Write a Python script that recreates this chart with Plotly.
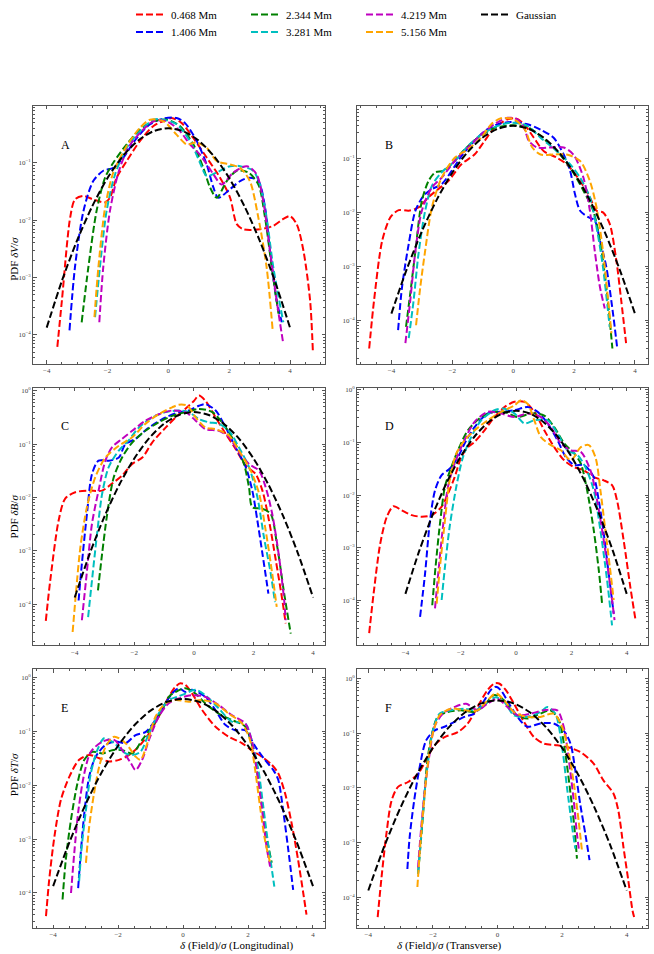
import plotly.graph_objects as go

# ---------------- data ----------------
SERIES = ["0.468 Mm", "1.406 Mm", "2.344 Mm", "3.281 Mm", "4.219 Mm", "5.156 Mm"]
COLORS = ["#ff0000", "#0000ff", "#008000", "#00bfbf", "#bf00bf", "#ffa500"]
PANELS = ["A", "B", "C", "D", "E", "F"]
Y_TITLES = {"A": "PDF <i>δV</i>/<i>σ</i>", "C": "PDF <i>δB</i>/<i>σ</i>", "E": "PDF <i>δT</i>/<i>σ</i>"}
X_TITLES = {"E": "<i>δ</i> (Field)/<i>σ</i> (Longitudinal)", "F": "<i>δ</i> (Field)/<i>σ</i> (Transverse)"}
X_TICKS = [-4, -2, 0, 2, 4]
X_TICK_TEXT = ["−4", "−2", "0", "2", "4"]
Y_TICKS = [1, 0.1, 0.01, 0.001, 0.0001]
Y_TICK_TEXT = ["10<sup>0</sup>", "10<sup>−1</sup>", "10<sup>−2</sup>", "10<sup>−3</sup>", "10<sup>−4</sup>"]

GAUSS_X = [-4.0, -3.5, -3.0, -2.5, -2.0, -1.5, -1.0, -0.5, 0.0, 0.5, 1.0, 1.5, 2.0, 2.5, 3.0, 3.5, 4.0]
GAUSS_PDF = [1.338e-4, 8.727e-4, 4.432e-3, 1.753e-2, 5.399e-2, 0.1295, 0.2420, 0.3521, 0.3989,
             0.3521, 0.2420, 0.1295, 5.399e-2, 1.753e-2, 4.432e-3, 8.727e-4, 1.338e-4]

# Panel A (dV, longitudinal): x and log10(PDF)
A_0468_X = [-3.65, -3.5, -3.23, -3.07, -2.80, -2.47, -2.08, -1.92, -1.70, -1.37, -0.93, -0.49, -0.05, 0.11, 0.44, 0.82, 1.26, 1.70, 2.03, 2.25, 2.47, 3.01, 3.45, 3.78, 4.0, 4.22, 4.44, 4.66, 4.75]
A_0468_LOGY = [-4.21, -3.40, -1.96, -1.64, -1.58, -1.64, -1.69, -1.61, -1.26, -0.97, -0.62, -0.36, -0.25, -0.22, -0.31, -0.57, -0.91, -1.26, -1.61, -2.07, -2.16, -2.16, -2.10, -1.98, -1.93, -2.07, -2.53, -3.40, -4.27]
A_1406_X = [-3.25, -3.07, -2.79, -2.47, -2.14, -1.81, -1.48, -1.04, -0.60, -0.16, 0.27, 0.55, 0.93, 1.26, 1.48, 1.64, 2.03, 2.36, 2.68, 2.96, 3.18, 3.34, 3.56, 3.73]
A_1406_LOGY = [-3.92, -2.82, -1.84, -1.32, -1.14, -1.09, -0.91, -0.57, -0.33, -0.23, -0.22, -0.31, -0.62, -1.03, -1.43, -1.61, -1.46, -1.32, -1.26, -1.32, -1.78, -2.53, -3.40, -3.78]
A_2344_X = [-2.85, -2.63, -2.36, -2.08, -1.81, -1.37, -0.93, -0.49, -0.05, 0.38, 0.82, 1.15, 1.37, 1.59, 1.92, 2.25, 2.63, 2.96, 3.18, 3.40, 3.62]
A_2344_LOGY = [-3.78, -2.82, -1.84, -1.26, -1.0, -0.68, -0.42, -0.28, -0.25, -0.36, -0.68, -1.09, -1.43, -1.61, -1.32, -1.14, -1.17, -1.38, -1.96, -2.82, -3.63]
A_3281_X = [-2.41, -2.25, -2.03, -1.75, -1.37, -0.93, -0.49, -0.16, 0.27, 0.71, 1.04, 1.26, 1.59, 2.03, 2.36, 2.79, 3.01, 3.23, 3.45, 3.78]
A_3281_LOGY = [-3.69, -2.82, -1.84, -1.20, -0.74, -0.45, -0.25, -0.25, -0.33, -0.62, -1.0, -1.23, -1.17, -1.06, -1.06, -1.14, -1.38, -1.96, -2.82, -3.78]
A_4219_X = [-2.27, -2.14, -1.92, -1.64, -1.32, -0.93, -0.49, -0.05, 0.38, 0.71, 1.04, 1.48, 1.75, 2.14, 2.58, 2.90, 3.12, 3.34, 3.56, 3.78]
A_4219_LOGY = [-3.78, -2.82, -1.84, -1.17, -0.74, -0.48, -0.28, -0.28, -0.45, -0.68, -0.86, -1.20, -1.38, -1.17, -1.06, -1.20, -1.67, -2.53, -3.40, -4.16]
A_5156_X = [-2.43, -2.30, -2.08, -1.81, -1.37, -0.93, -0.60, -0.16, 0.27, 0.60, 0.93, 1.26, 1.59, 2.03, 2.36, 2.68, 2.96, 3.23, 3.43]
A_5156_LOGY = [-3.69, -2.82, -1.78, -1.17, -0.71, -0.39, -0.25, -0.28, -0.51, -0.68, -0.65, -0.74, -0.97, -1.03, -1.09, -1.32, -1.96, -2.82, -3.92]

# Panel B (dV, transverse)
B_0468_X = [-4.73, -4.57, -4.30, -4.03, -3.76, -3.43, -3.11, -2.78, -2.46, -2.13, -1.70, -1.27, -0.94, -0.62, -0.18, 0.09, 0.36, 0.68, 1.01, 1.44, 1.76, 2.20, 2.52, 2.74, 2.95, 3.17, 3.39, 3.55, 3.71]
B_0468_LOGY = [-4.52, -3.63, -2.52, -2.09, -1.96, -1.97, -1.91, -1.72, -1.57, -1.42, -1.11, -0.93, -0.68, -0.44, -0.28, -0.26, -0.37, -0.62, -0.87, -0.99, -1.11, -1.42, -1.72, -1.97, -2.0, -2.21, -2.89, -3.63, -4.42]
B_1406_X = [-3.78, -3.65, -3.43, -3.21, -2.94, -2.67, -2.35, -2.02, -1.70, -1.37, -0.94, -0.51, -0.08, 0.47, 0.90, 1.33, 1.66, 1.87, 2.03, 2.20, 2.47, 2.68, 2.85, 3.06, 3.28, 3.42]
B_1406_LOGY = [-4.18, -3.38, -2.58, -1.97, -1.69, -1.57, -1.48, -1.23, -0.96, -0.74, -0.50, -0.37, -0.33, -0.37, -0.47, -0.62, -0.93, -1.23, -1.66, -1.97, -2.09, -2.15, -2.52, -3.01, -3.87, -4.52]
B_2344_X = [-3.52, -3.38, -3.21, -3.00, -2.78, -2.56, -2.29, -2.02, -1.58, -1.16, -0.62, -0.08, 0.47, 0.90, 1.44, 1.87, 2.31, 2.63, 2.85, 3.06, 3.26]
B_2344_LOGY = [-4.12, -3.50, -2.71, -1.79, -1.42, -1.26, -1.23, -1.11, -0.83, -0.62, -0.44, -0.39, -0.42, -0.59, -0.87, -1.17, -1.60, -1.97, -2.52, -3.38, -4.52]
B_3281_X = [-3.43, -3.27, -3.11, -2.89, -2.67, -2.35, -1.92, -1.48, -1.05, -0.51, -0.08, 0.47, 0.90, 1.44, 1.87, 2.20, 2.52, 2.74, 2.95, 3.17]
B_3281_LOGY = [-4.33, -3.63, -2.77, -1.97, -1.51, -1.26, -1.05, -0.77, -0.56, -0.40, -0.34, -0.40, -0.62, -0.87, -1.11, -1.36, -1.72, -2.28, -3.01, -4.12]
B_4219_X = [-3.54, -3.38, -3.21, -3.00, -2.67, -2.35, -1.92, -1.48, -1.05, -0.62, -0.18, 0.14, 0.36, 0.52, 0.79, 1.22, 1.66, 1.98, 2.31, 2.52, 2.68, 2.85, 3.01]
B_4219_LOGY = [-4.42, -3.63, -2.71, -1.97, -1.54, -1.36, -1.05, -0.80, -0.56, -0.37, -0.25, -0.28, -0.44, -0.68, -0.80, -0.80, -0.80, -0.93, -1.36, -1.97, -2.71, -3.38, -3.78]
B_5156_X = [-3.19, -3.05, -2.89, -2.67, -2.35, -1.92, -1.48, -1.05, -0.72, -0.40, 0.03, 0.36, 0.63, 0.90, 1.33, 1.76, 2.20, 2.52, 2.74, 2.95, 3.12, 3.23]
B_5156_LOGY = [-4.09, -3.38, -2.71, -1.91, -1.36, -0.99, -0.83, -0.62, -0.37, -0.26, -0.28, -0.44, -0.80, -0.93, -0.93, -0.93, -1.05, -1.42, -1.91, -2.71, -3.63, -4.24]

# Panel C (dB, longitudinal)
C_0468_X = [-4.97, -4.82, -4.54, -4.32, -3.98, -3.53, -3.08, -2.75, -2.41, -2.07, -1.73, -1.40, -0.95, -0.50, -0.17, 0.0, 0.17, 0.39, 0.73, 1.07, 1.40, 1.74, 2.07, 2.30, 2.52, 2.75, 2.97, 3.08]
C_0468_LOGY = [-4.31, -3.55, -2.43, -2.02, -1.90, -1.87, -1.87, -1.74, -1.59, -1.37, -1.25, -0.97, -0.69, -0.44, -0.28, -0.19, -0.09, -0.19, -0.50, -0.81, -1.09, -1.40, -1.56, -1.87, -2.43, -3.18, -3.93, -4.36]
C_1406_X = [-3.87, -3.76, -3.59, -3.42, -3.20, -2.86, -2.52, -2.30, -1.96, -1.51, -0.95, -0.50, -0.17, 0.17, 0.39, 0.73, 1.07, 1.40, 1.74, 1.96, 2.13, 2.30, 2.50]
C_1406_LOGY = [-3.93, -3.24, -2.31, -1.56, -1.31, -1.31, -1.25, -1.00, -0.90, -0.69, -0.50, -0.40, -0.37, -0.28, -0.25, -0.37, -0.69, -1.06, -1.43, -1.87, -2.43, -3.05, -3.80]
C_2344_X = [-3.22, -3.08, -2.91, -2.69, -2.41, -2.07, -1.63, -1.18, -0.73, -0.28, 0.17, 0.62, 1.07, 1.40, 1.68, 1.85, 1.96, 2.30, 2.58, 2.80, 3.03, 3.25]
C_2344_LOGY = [-3.74, -3.05, -2.31, -1.62, -1.25, -0.97, -0.75, -0.59, -0.47, -0.40, -0.34, -0.40, -0.69, -1.00, -1.37, -1.81, -2.18, -2.21, -2.31, -2.93, -3.80, -4.55]
C_3281_X = [-3.55, -3.42, -3.25, -3.08, -2.86, -2.52, -2.19, -1.85, -1.40, -0.95, -0.50, -0.17, 0.17, 0.50, 0.84, 1.18, 1.51, 1.85, 2.13, 2.35, 2.58, 2.72]
C_3281_LOGY = [-4.24, -3.55, -2.68, -1.93, -1.43, -1.12, -0.93, -0.69, -0.50, -0.40, -0.37, -0.40, -0.53, -0.59, -0.62, -0.75, -1.06, -1.43, -1.99, -2.74, -3.43, -3.96]
C_4219_X = [-3.76, -3.62, -3.42, -3.20, -2.97, -2.75, -2.41, -2.07, -1.63, -1.18, -0.73, -0.28, 0.06, 0.39, 0.84, 1.18, 1.51, 1.85, 2.19, 2.41, 2.63, 2.86, 3.03, 3.08]
C_4219_LOGY = [-4.30, -3.55, -2.49, -1.87, -1.31, -1.06, -0.90, -0.75, -0.56, -0.44, -0.37, -0.40, -0.56, -0.72, -0.75, -0.87, -1.15, -1.37, -1.50, -1.81, -2.31, -3.12, -3.93, -4.30]
C_5156_X = [-4.07, -3.96, -3.81, -3.59, -3.31, -2.97, -2.52, -2.07, -1.63, -1.18, -0.73, -0.50, -0.22, 0.06, 0.39, 0.73, 1.18, 1.51, 1.91, 2.19, 2.41, 2.63, 2.78]
C_5156_LOGY = [-4.52, -3.80, -2.93, -2.18, -1.62, -1.25, -1.03, -0.87, -0.62, -0.44, -0.31, -0.26, -0.28, -0.50, -0.69, -0.72, -0.84, -1.12, -1.50, -1.93, -2.62, -3.43, -4.05]

# Panel D (dB, transverse)
D_0468_X = [-5.31, -5.15, -4.91, -4.67, -4.43, -4.13, -3.77, -3.41, -3.05, -2.69, -2.46, -2.22, -1.98, -1.74, -1.50, -1.14, -0.78, -0.42, -0.06, 0.30, 0.66, 1.02, 1.38, 1.74, 2.10, 2.46, 2.81, 3.17, 3.47, 3.65, 3.89, 4.13, 4.31]
D_0468_LOGY = [-4.62, -3.87, -2.92, -2.41, -2.21, -2.29, -2.38, -2.41, -2.38, -2.22, -1.97, -1.66, -1.28, -1.09, -0.99, -0.77, -0.52, -0.33, -0.23, -0.23, -0.42, -0.77, -1.09, -1.34, -1.47, -1.53, -1.66, -1.72, -1.81, -2.10, -2.86, -3.74, -4.34]
D_1406_X = [-3.47, -3.29, -3.11, -2.93, -2.69, -2.40, -2.10, -1.86, -1.50, -1.02, -0.54, -0.06, 0.42, 0.78, 1.14, 1.50, 1.80, 2.10, 2.46, 2.81, 2.99, 3.17, 3.35, 3.53]
D_1406_LOGY = [-4.31, -3.49, -2.48, -1.91, -1.62, -1.50, -1.28, -1.02, -0.71, -0.45, -0.42, -0.39, -0.33, -0.42, -0.64, -0.96, -1.28, -1.43, -1.43, -1.66, -2.10, -2.73, -3.49, -4.25]
D_2344_X = [-3.03, -2.91, -2.75, -2.57, -2.34, -2.10, -1.74, -1.26, -0.78, -0.42, 0.06, 0.54, 1.02, 1.38, 1.74, 2.10, 2.34, 2.57, 2.81, 2.99, 3.11]
D_2344_LOGY = [-4.09, -3.36, -2.54, -1.84, -1.47, -1.15, -0.77, -0.52, -0.42, -0.42, -0.52, -0.45, -0.49, -0.71, -1.02, -1.21, -1.40, -1.91, -2.67, -3.42, -4.06]
D_3281_X = [-2.69, -2.57, -2.40, -2.16, -1.92, -1.62, -1.26, -0.78, -0.42, -0.06, 0.30, 0.66, 1.14, 1.50, 1.86, 2.22, 2.51, 2.81, 3.05, 3.29, 3.47]
D_3281_LOGY = [-3.99, -3.36, -2.60, -1.84, -1.28, -0.90, -0.58, -0.39, -0.36, -0.45, -0.64, -0.58, -0.58, -0.83, -1.15, -1.24, -1.47, -1.91, -2.67, -3.61, -4.47]
D_4219_X = [-2.93, -2.79, -2.63, -2.46, -2.22, -1.92, -1.50, -1.02, -0.54, -0.06, 0.42, 0.90, 1.26, 1.62, 1.98, 2.34, 2.69, 2.93, 3.17, 3.41, 3.56]
D_4219_LOGY = [-4.15, -3.36, -2.54, -1.84, -1.40, -1.02, -0.61, -0.42, -0.45, -0.52, -0.45, -0.52, -0.71, -1.02, -1.15, -1.18, -1.53, -2.10, -2.86, -3.74, -4.37]
D_5156_X = [-2.87, -2.75, -2.57, -2.40, -2.16, -1.86, -1.50, -1.02, -0.54, -0.06, 0.18, 0.42, 0.66, 0.90, 1.26, 1.62, 1.98, 2.34, 2.63, 2.87, 3.05, 3.23, 3.39, 3.53]
D_5156_LOGY = [-4.06, -3.36, -2.48, -1.72, -1.21, -0.96, -0.77, -0.58, -0.42, -0.30, -0.20, -0.27, -0.58, -0.90, -1.05, -1.15, -1.34, -1.09, -1.05, -1.28, -1.91, -2.67, -3.36, -3.99]

# Panel E (dT, longitudinal)
E_0468_X = [-4.22, -4.12, -3.96, -3.76, -3.50, -3.20, -2.89, -2.58, -2.28, -1.97, -1.66, -1.36, -1.05, -0.75, -0.44, -0.23, -0.08, 0.07, 0.28, 0.58, 0.99, 1.40, 1.81, 2.11, 2.42, 2.73, 2.93, 3.14, 3.34, 3.54, 3.70, 3.80]
E_0468_LOGY = [-4.43, -3.75, -2.95, -2.27, -1.84, -1.53, -1.44, -1.50, -1.56, -1.53, -1.44, -1.28, -1.04, -0.73, -0.36, -0.17, -0.11, -0.14, -0.30, -0.60, -0.91, -1.10, -1.22, -1.35, -1.47, -1.62, -1.78, -2.15, -2.70, -3.38, -4.0, -4.40]
E_1406_X = [-3.23, -3.15, -3.04, -2.89, -2.69, -2.38, -2.07, -1.77, -1.46, -1.15, -0.85, -0.54, -0.34, -0.13, 0.07, 0.28, 0.68, 0.99, 1.30, 1.60, 1.91, 2.22, 2.52, 2.78, 2.93, 3.08, 3.24, 3.39]
E_1406_LOGY = [-3.91, -3.26, -2.52, -1.84, -1.47, -1.25, -1.19, -1.22, -1.07, -1.01, -0.79, -0.48, -0.30, -0.20, -0.27, -0.23, -0.36, -0.60, -0.88, -0.98, -0.98, -1.28, -1.53, -1.72, -1.90, -2.46, -3.20, -3.94]
E_2344_X = [-3.71, -3.61, -3.45, -3.25, -3.04, -2.79, -2.48, -2.18, -1.87, -1.56, -1.26, -0.95, -0.64, -0.44, -0.23, 0.07, 0.38, 0.68, 1.09, 1.50, 1.91, 2.11, 2.27, 2.42, 2.57, 2.73]
E_2344_LOGY = [-4.12, -3.38, -2.64, -1.96, -1.53, -1.38, -1.41, -1.35, -1.35, -1.41, -1.16, -0.91, -0.60, -0.36, -0.27, -0.20, -0.30, -0.48, -0.67, -0.79, -0.91, -1.22, -1.72, -2.33, -2.95, -3.44]
E_3281_X = [-3.20, -3.12, -2.99, -2.84, -2.64, -2.43, -2.12, -1.77, -1.56, -1.31, -1.05, -0.75, -0.44, -0.18, 0.07, 0.38, 0.68, 1.09, 1.50, 1.91, 2.11, 2.32, 2.47, 2.63, 2.75, 2.81]
E_3281_LOGY = [-3.78, -3.14, -2.46, -1.78, -1.35, -1.13, -1.22, -1.41, -1.44, -1.38, -1.04, -0.67, -0.42, -0.36, -0.30, -0.23, -0.33, -0.57, -0.82, -0.85, -1.16, -1.72, -2.40, -3.14, -3.63, -3.88]
E_4219_X = [-3.45, -3.35, -3.22, -3.04, -2.84, -2.48, -2.12, -1.87, -1.61, -1.46, -1.26, -1.05, -0.75, -0.44, -0.13, 0.28, 0.68, 1.09, 1.50, 1.91, 2.11, 2.27, 2.42, 2.57, 2.68]
E_4219_LOGY = [-4.0, -3.26, -2.46, -1.78, -1.38, -1.19, -1.16, -1.35, -1.59, -1.72, -1.53, -1.16, -0.73, -0.48, -0.39, -0.33, -0.36, -0.51, -0.70, -0.85, -1.16, -1.72, -2.40, -3.14, -3.51]
E_5156_X = [-2.99, -2.89, -2.74, -2.58, -2.38, -2.12, -1.77, -1.46, -1.31, -1.10, -0.85, -0.54, -0.23, 0.17, 0.58, 0.99, 1.40, 1.81, 2.06, 2.22, 2.37, 2.52, 2.68]
E_5156_LOGY = [-3.44, -2.77, -2.15, -1.65, -1.28, -1.10, -1.22, -1.47, -1.53, -1.22, -0.73, -0.48, -0.42, -0.45, -0.42, -0.48, -0.67, -0.85, -1.16, -1.72, -2.40, -3.01, -3.44]

# Panel F (dT, transverse)
F_0468_X = [-3.71, -3.59, -3.44, -3.28, -3.08, -2.77, -2.46, -2.21, -1.95, -1.64, -1.23, -0.92, -0.62, -0.31, -0.10, 0.05, 0.26, 0.51, 0.82, 1.13, 1.44, 1.85, 2.15, 2.56, 2.97, 3.28, 3.59, 3.74, 3.90, 4.05, 4.18, 4.23]
F_0468_LOGY = [-4.36, -3.63, -2.84, -2.23, -1.98, -1.89, -1.74, -1.49, -1.22, -1.07, -0.98, -0.82, -0.52, -0.21, -0.09, -0.09, -0.21, -0.46, -0.79, -1.07, -1.19, -1.22, -1.25, -1.34, -1.55, -1.86, -2.10, -2.41, -3.08, -3.69, -4.24, -4.36]
F_1406_X = [-2.79, -2.72, -2.58, -2.41, -2.21, -1.95, -1.64, -1.33, -1.03, -0.72, -0.41, -0.21, -0.05, 0.10, 0.36, 0.62, 0.92, 1.33, 1.74, 2.05, 2.26, 2.41, 2.56, 2.72, 2.85]
F_1406_LOGY = [-3.48, -2.90, -2.23, -1.62, -1.13, -0.95, -0.88, -0.79, -0.70, -0.64, -0.40, -0.21, -0.15, -0.21, -0.46, -0.70, -0.88, -0.82, -0.82, -0.95, -1.19, -1.68, -2.29, -2.84, -3.32]
F_2344_X = [-2.46, -2.38, -2.28, -2.18, -2.05, -1.85, -1.54, -1.13, -0.72, -0.41, -0.10, 0.21, 0.51, 0.92, 1.33, 1.64, 1.90, 2.10, 2.26, 2.38, 2.46]
F_2344_LOGY = [-3.57, -3.02, -2.29, -1.55, -1.07, -0.70, -0.61, -0.58, -0.61, -0.49, -0.30, -0.40, -0.64, -0.73, -0.64, -0.58, -0.76, -1.37, -2.10, -2.71, -3.29]
F_3281_X = [-2.46, -2.36, -2.26, -2.13, -2.0, -1.79, -1.44, -1.03, -0.67, -0.31, -0.05, 0.21, 0.51, 0.92, 1.33, 1.54, 1.79, 2.0, 2.15, 2.31, 2.41]
F_3281_LOGY = [-3.57, -2.84, -2.10, -1.43, -0.95, -0.64, -0.58, -0.55, -0.58, -0.43, -0.34, -0.43, -0.67, -0.70, -0.61, -0.52, -0.64, -1.25, -1.98, -2.71, -3.11]
F_4219_X = [-2.46, -2.36, -2.24, -2.10, -1.95, -1.69, -1.33, -0.97, -0.62, -0.31, 0.0, 0.31, 0.62, 1.03, 1.44, 1.85, 2.05, 2.21, 2.36, 2.46, 2.53]
F_4219_LOGY = [-3.45, -2.71, -1.98, -1.37, -0.88, -0.64, -0.52, -0.46, -0.58, -0.46, -0.37, -0.52, -0.67, -0.64, -0.58, -0.58, -0.88, -1.49, -2.23, -2.84, -3.17]
F_5156_X = [-2.48, -2.41, -2.31, -2.18, -2.03, -1.79, -1.44, -1.03, -0.62, -0.31, -0.05, 0.21, 0.51, 0.92, 1.33, 1.74, 2.0, 2.21, 2.38, 2.51, 2.62]
F_5156_LOGY = [-3.81, -3.20, -2.47, -1.68, -1.07, -0.67, -0.55, -0.58, -0.58, -0.40, -0.27, -0.40, -0.61, -0.70, -0.70, -0.64, -0.88, -1.37, -1.98, -2.59, -3.17]

# axis ranges per panel (x linear, y in log10)
X_RANGES = {"A": [-4.45, 5.15], "B": [-5.13, 4.43], "C": [-5.4, 4.4],
            "D": [-5.75, 4.77], "E": [-4.62, 4.37], "F": [-4.35, 4.66]}
Y_RANGES = {"A": [-4.5, -0.01], "B": [-4.8, -0.03], "C": [-4.77, 0.06],
            "D": [-4.85, 0.04], "E": [-4.65, 0.15], "F": [-4.56, 0.17]}

# ---------------- figure ----------------
W, H = 654, 954
COL_X = [(33, 325), (357, 648)]
ROW_Y = [(105, 363), (387, 645), (669, 928)]
SERIF = "Liberation Serif"
FRAME = "#555555"

DATA = {}
g = globals()
for p in PANELS:
    DATA[p] = [(g[f"{p}_{s.split()[0].replace('.', '')}_X"], g[f"{p}_{s.split()[0].replace('.', '')}_LOGY"]) for s in SERIES]

fig = go.Figure()
layout = {}
annotations = []
for i, p in enumerate(PANELS):
    row, col = divmod(i, 2)
    n = "" if i == 0 else str(i + 1)
    xref, yref = "x" + n, "y" + n
    x0, x1 = COL_X[col]
    y0, y1 = ROW_Y[row]
    for k, s in enumerate(SERIES):
        xs, ly = DATA[p][k]
        fig.add_trace(go.Scatter(
            x=xs, y=[10 ** v for v in ly], mode="lines", name=s,
            line=dict(color=COLORS[k], width=2, dash="7px,3px", shape="spline", smoothing=0.8),
            xaxis=xref, yaxis=yref, showlegend=(i == 0),
            legend="legend" if k % 2 == 0 else "legend2"))
    fig.add_trace(go.Scatter(
        x=GAUSS_X, y=GAUSS_PDF, mode="lines", name="Gaussian",
        line=dict(color="#000000", width=2, dash="7px,3px", shape="spline", smoothing=0.8),
        xaxis=xref, yaxis=yref, showlegend=(i == 0), legend="legend"))

    common = dict(showline=True, linecolor=FRAME, linewidth=1, mirror="ticks",
                  ticks="inside", ticklen=3.5, tickcolor=FRAME, tickwidth=0.8,
                  showgrid=False, zeroline=False,
                  tickfont=dict(family=SERIF, size=7, color="#444444"))
    layout["xaxis" + n] = dict(
        common, domain=[x0 / W, x1 / W], anchor=yref, range=X_RANGES[p],
        tickmode="array", tickvals=X_TICKS, ticktext=X_TICK_TEXT,
        minor=dict(ticks="inside", ticklen=2, tickcolor=FRAME, tickwidth=0.6, dtick=0.5, tick0=0, showgrid=False))
    layout["yaxis" + n] = dict(
        common, domain=[1 - y1 / H, 1 - y0 / H], anchor=xref, type="log", range=Y_RANGES[p],
        tickmode="array", tickvals=Y_TICKS, ticktext=Y_TICK_TEXT,
        minor=dict(ticks="inside", ticklen=2, tickcolor=FRAME, tickwidth=0.6, dtick="D1", showgrid=False))

    annotations.append(dict(text=p, xref=xref + " domain", yref=yref + " domain", x=0.088, y=0.885,
                            showarrow=False, font=dict(family=SERIF, size=12, color="#000000")))
    if p in Y_TITLES:
        annotations.append(dict(text=Y_TITLES[p], xref="paper", yref="paper", x=6 / W,
                                y=1 - (y0 + y1) / 2 / H, textangle=-90, showarrow=False,
                                font=dict(family=SERIF, size=11, color="#000000")))
    if p in X_TITLES:
        annotations.append(dict(text=X_TITLES[p], xref="paper", yref="paper", x=(x0 + x1) / 2 / W,
                                y=1 / H, yanchor="bottom", showarrow=False, borderpad=0,
                                font=dict(family=SERIF, size=11, color="#000000")))

leg = dict(orientation="h", xanchor="left", yanchor="middle", bgcolor="rgba(0,0,0,0)",
           font=dict(family=SERIF, size=11, color="#000000"), entrywidth=70,
           entrywidthmode="pixels", itemwidth=30, traceorder="normal", tracegroupgap=0)
layout["legend"] = dict(leg, x=131 / W, y=1 - 14 / H)
layout["legend2"] = dict(leg, x=131 / W, y=1 - 32 / H)

fig.update_layout(width=W, height=H, margin=dict(l=0, r=0, t=0, b=0),
                  paper_bgcolor="white", plot_bgcolor="white",
                  annotations=annotations, **layout)
fig.write_html("out.html", config={"displayModeBar": False},
               post_script="document.body.style.margin='0px';document.body.style.overflow='hidden';")
